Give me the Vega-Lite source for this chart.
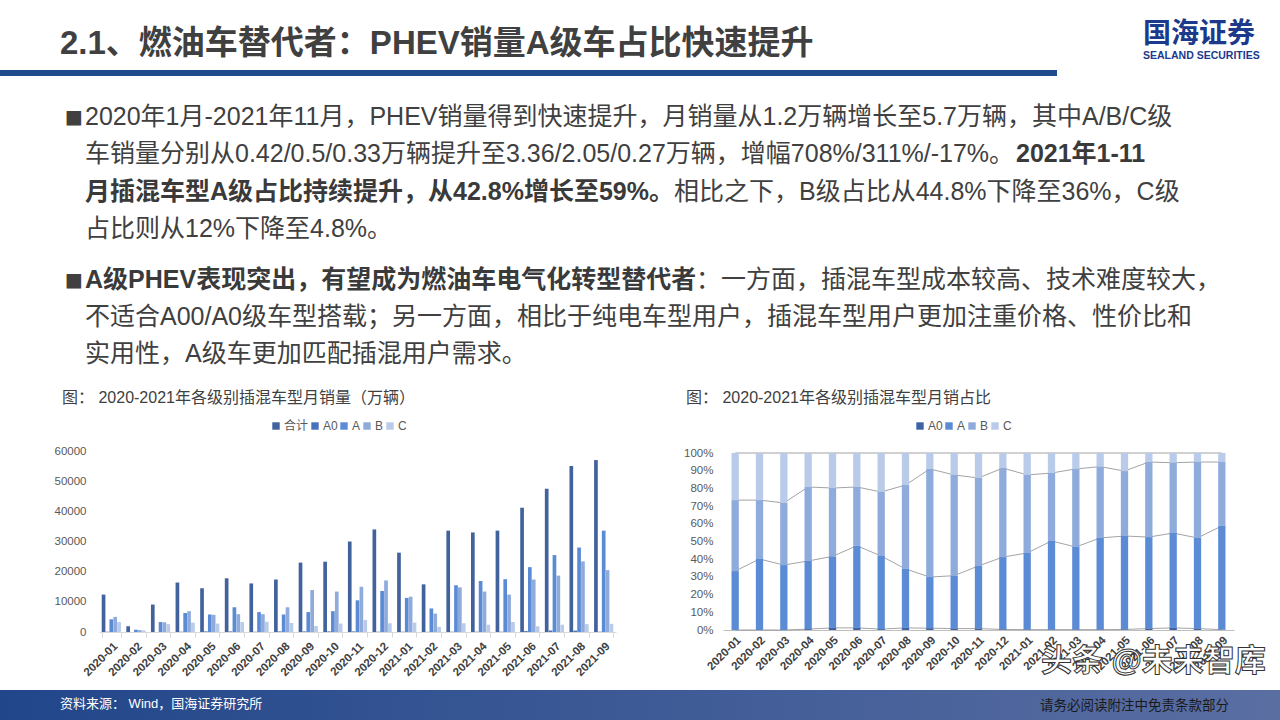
{
"$schema": "https://vega.github.io/schema/vega-lite/v6.json",
"padding": 0,
"background": "#ffffff",
"bounds": "flush",
"spacing": 0,
"config": {
  "view": {"stroke": null},
  "font": "Liberation Sans, Noto Sans CJK SC",
  "text": {"font": "Liberation Sans, Noto Sans CJK SC"},
  "axis": {"grid": false, "labelFont": "Liberation Sans, Noto Sans CJK SC"},
  "legend": {"labelFont": "Liberation Sans, Noto Sans CJK SC"}
},
"datasets": {
  "sales": [
    {"m":"2020-01","c":"合计","v":12400},{"m":"2020-01","c":"A0","v":100},{"m":"2020-01","c":"A","v":4200},{"m":"2020-01","c":"B","v":5000},{"m":"2020-01","c":"C","v":3300},
    {"m":"2020-02","c":"合计","v":1900},{"m":"2020-02","c":"A0","v":0},{"m":"2020-02","c":"A","v":760},{"m":"2020-02","c":"B","v":630},{"m":"2020-02","c":"C","v":510},
    {"m":"2020-03","c":"合计","v":9100},{"m":"2020-03","c":"A0","v":0},{"m":"2020-03","c":"A","v":3300},{"m":"2020-03","c":"B","v":3200},{"m":"2020-03","c":"C","v":2600},
    {"m":"2020-04","c":"合计","v":16400},{"m":"2020-04","c":"A0","v":100},{"m":"2020-04","c":"A","v":6300},{"m":"2020-04","c":"B","v":6900},{"m":"2020-04","c":"C","v":3100},
    {"m":"2020-05","c":"合计","v":14500},{"m":"2020-05","c":"A0","v":200},{"m":"2020-05","c":"A","v":5800},{"m":"2020-05","c":"B","v":5700},{"m":"2020-05","c":"C","v":2800},
    {"m":"2020-06","c":"合计","v":17800},{"m":"2020-06","c":"A0","v":200},{"m":"2020-06","c":"A","v":8200},{"m":"2020-06","c":"B","v":5900},{"m":"2020-06","c":"C","v":3300},
    {"m":"2020-07","c":"合计","v":16100},{"m":"2020-07","c":"A0","v":100},{"m":"2020-07","c":"A","v":6600},{"m":"2020-07","c":"B","v":5900},{"m":"2020-07","c":"C","v":3400},
    {"m":"2020-08","c":"合计","v":17400},{"m":"2020-08","c":"A0","v":200},{"m":"2020-08","c":"A","v":5800},{"m":"2020-08","c":"B","v":8200},{"m":"2020-08","c":"C","v":3000},
    {"m":"2020-09","c":"合计","v":23000},{"m":"2020-09","c":"A0","v":200},{"m":"2020-09","c":"A","v":6600},{"m":"2020-09","c":"B","v":13900},{"m":"2020-09","c":"C","v":2000},
    {"m":"2020-10","c":"合计","v":23300},{"m":"2020-10","c":"A0","v":200},{"m":"2020-10","c":"A","v":6900},{"m":"2020-10","c":"B","v":13400},{"m":"2020-10","c":"C","v":2800},
    {"m":"2020-11","c":"合计","v":30000},{"m":"2020-11","c":"A0","v":200},{"m":"2020-11","c":"A","v":10500},{"m":"2020-11","c":"B","v":15000},{"m":"2020-11","c":"C","v":4000},
    {"m":"2020-12","c":"合计","v":34000},{"m":"2020-12","c":"A0","v":100},{"m":"2020-12","c":"A","v":13600},{"m":"2020-12","c":"B","v":17100},{"m":"2020-12","c":"C","v":2900},
    {"m":"2021-01","c":"合计","v":26300},{"m":"2021-01","c":"A0","v":100},{"m":"2021-01","c":"A","v":11300},{"m":"2021-01","c":"B","v":11700},{"m":"2021-01","c":"C","v":3100},
    {"m":"2021-02","c":"合计","v":15800},{"m":"2021-02","c":"A0","v":50},{"m":"2021-02","c":"A","v":7800},{"m":"2021-02","c":"B","v":6100},{"m":"2021-02","c":"C","v":1700},
    {"m":"2021-03","c":"合计","v":33600},{"m":"2021-03","c":"A0","v":100},{"m":"2021-03","c":"A","v":15500},{"m":"2021-03","c":"B","v":14800},{"m":"2021-03","c":"C","v":2900},
    {"m":"2021-04","c":"合计","v":33000},{"m":"2021-04","c":"A0","v":100},{"m":"2021-04","c":"A","v":16900},{"m":"2021-04","c":"B","v":13400},{"m":"2021-04","c":"C","v":2400},
    {"m":"2021-05","c":"合计","v":33600},{"m":"2021-05","c":"A0","v":100},{"m":"2021-05","c":"A","v":17500},{"m":"2021-05","c":"B","v":12400},{"m":"2021-05","c":"C","v":3300},
    {"m":"2021-06","c":"合计","v":41200},{"m":"2021-06","c":"A0","v":300},{"m":"2021-06","c":"A","v":21500},{"m":"2021-06","c":"B","v":17400},{"m":"2021-06","c":"C","v":1900},
    {"m":"2021-07","c":"合计","v":47500},{"m":"2021-07","c":"A0","v":500},{"m":"2021-07","c":"A","v":25500},{"m":"2021-07","c":"B","v":18700},{"m":"2021-07","c":"C","v":2400},
    {"m":"2021-08","c":"合计","v":55000},{"m":"2021-08","c":"A0","v":450},{"m":"2021-08","c":"A","v":28000},{"m":"2021-08","c":"B","v":23400},{"m":"2021-08","c":"C","v":2600},
    {"m":"2021-09","c":"合计","v":57000},{"m":"2021-09","c":"A0","v":100},{"m":"2021-09","c":"A","v":33600},{"m":"2021-09","c":"B","v":20500},{"m":"2021-09","c":"C","v":2700}
  ],
  "share": [
    {"m":"2020-01","c":"A0","k":1,"p":0},{"m":"2020-01","c":"A","k":2,"p":33.3},{"m":"2020-01","c":"B","k":3,"p":40.1},{"m":"2020-01","c":"C","k":4,"p":26.6},
    {"m":"2020-02","c":"A0","k":1,"p":0},{"m":"2020-02","c":"A","k":2,"p":40.1},{"m":"2020-02","c":"B","k":3,"p":33.3},{"m":"2020-02","c":"C","k":4,"p":26.6},
    {"m":"2020-03","c":"A0","k":1,"p":0},{"m":"2020-03","c":"A","k":2,"p":36.7},{"m":"2020-03","c":"B","k":3,"p":35.1},{"m":"2020-03","c":"C","k":4,"p":28.2},
    {"m":"2020-04","c":"A0","k":1,"p":0.5},{"m":"2020-04","c":"A","k":2,"p":38.5},{"m":"2020-04","c":"B","k":3,"p":41.8},{"m":"2020-04","c":"C","k":4,"p":19.2},
    {"m":"2020-05","c":"A0","k":1,"p":1.2},{"m":"2020-05","c":"A","k":2,"p":40.4},{"m":"2020-05","c":"B","k":3,"p":38.6},{"m":"2020-05","c":"C","k":4,"p":19.8},
    {"m":"2020-06","c":"A0","k":1,"p":1.2},{"m":"2020-06","c":"A","k":2,"p":46.4},{"m":"2020-06","c":"B","k":3,"p":33.2},{"m":"2020-06","c":"C","k":4,"p":19.2},
    {"m":"2020-07","c":"A0","k":1,"p":0.5},{"m":"2020-07","c":"A","k":2,"p":41.3},{"m":"2020-07","c":"B","k":3,"p":36.2},{"m":"2020-07","c":"C","k":4,"p":22.0},
    {"m":"2020-08","c":"A0","k":1,"p":1.2},{"m":"2020-08","c":"A","k":2,"p":33.3},{"m":"2020-08","c":"B","k":3,"p":47.4},{"m":"2020-08","c":"C","k":4,"p":18.1},
    {"m":"2020-09","c":"A0","k":1,"p":1.0},{"m":"2020-09","c":"A","k":2,"p":28.9},{"m":"2020-09","c":"B","k":3,"p":61.1},{"m":"2020-09","c":"C","k":4,"p":9.0},
    {"m":"2020-10","c":"A0","k":1,"p":0.8},{"m":"2020-10","c":"A","k":2,"p":29.9},{"m":"2020-10","c":"B","k":3,"p":56.9},{"m":"2020-10","c":"C","k":4,"p":12.4},
    {"m":"2020-11","c":"A0","k":1,"p":0.8},{"m":"2020-11","c":"A","k":2,"p":35.4},{"m":"2020-11","c":"B","k":3,"p":49.7},{"m":"2020-11","c":"C","k":4,"p":14.1},
    {"m":"2020-12","c":"A0","k":1,"p":0.3},{"m":"2020-12","c":"A","k":2,"p":40.9},{"m":"2020-12","c":"B","k":3,"p":50.3},{"m":"2020-12","c":"C","k":4,"p":8.5},
    {"m":"2021-01","c":"A0","k":1,"p":0.2},{"m":"2021-01","c":"A","k":2,"p":43.3},{"m":"2021-01","c":"B","k":3,"p":44.1},{"m":"2021-01","c":"C","k":4,"p":12.4},
    {"m":"2021-02","c":"A0","k":1,"p":0.2},{"m":"2021-02","c":"A","k":2,"p":50.1},{"m":"2021-02","c":"B","k":3,"p":38.4},{"m":"2021-02","c":"C","k":4,"p":11.3},
    {"m":"2021-03","c":"A0","k":1,"p":0.2},{"m":"2021-03","c":"A","k":2,"p":46.7},{"m":"2021-03","c":"B","k":3,"p":44.1},{"m":"2021-03","c":"C","k":4,"p":9.0},
    {"m":"2021-04","c":"A0","k":1,"p":0.2},{"m":"2021-04","c":"A","k":2,"p":51.8},{"m":"2021-04","c":"B","k":3,"p":40.3},{"m":"2021-04","c":"C","k":4,"p":7.7},
    {"m":"2021-05","c":"A0","k":1,"p":0.3},{"m":"2021-05","c":"A","k":2,"p":52.8},{"m":"2021-05","c":"B","k":3,"p":36.7},{"m":"2021-05","c":"C","k":4,"p":10.2},
    {"m":"2021-06","c":"A0","k":1,"p":0.8},{"m":"2021-06","c":"A","k":2,"p":51.7},{"m":"2021-06","c":"B","k":3,"p":42.4},{"m":"2021-06","c":"C","k":4,"p":5.1},
    {"m":"2021-07","c":"A0","k":1,"p":1.2},{"m":"2021-07","c":"A","k":2,"p":53.6},{"m":"2021-07","c":"B","k":3,"p":39.7},{"m":"2021-07","c":"C","k":4,"p":5.5},
    {"m":"2021-08","c":"A0","k":1,"p":0.8},{"m":"2021-08","c":"A","k":2,"p":51.2},{"m":"2021-08","c":"B","k":3,"p":42.9},{"m":"2021-08","c":"C","k":4,"p":5.1},
    {"m":"2021-09","c":"A0","k":1,"p":0.2},{"m":"2021-09","c":"A","k":2,"p":58.6},{"m":"2021-09","c":"B","k":3,"p":36.1},{"m":"2021-09","c":"C","k":4,"p":5.1}
  ]
},
"vconcat": [
  {
    "width": 1280, "height": 70,
    "layer": [
      {"data": {"values": [{"t": "2.1、燃油车替代者：PHEV销量A级车占比快速提升"}]},
       "mark": {"type": "text", "align": "left", "baseline": "middle", "dx": -580, "dy": 9, "fontSize": 33, "fontWeight": "bold", "color": "#404040"},
       "encoding": {"text": {"field": "t"}}},
      {"data": {"values": [{"t": "国海证券"}]},
       "mark": {"type": "text", "align": "left", "baseline": "middle", "dx": 503, "dy": 0, "fontSize": 28, "fontWeight": "bold", "color": "#1b3a8c"},
       "encoding": {"text": {"field": "t"}}},
      {"data": {"values": [{"t": "SEALAND SECURITIES"}]},
       "mark": {"type": "text", "align": "left", "baseline": "middle", "dx": 503, "dy": 21, "fontSize": 10.5, "fontWeight": "bold", "color": "#1b3a8c"},
       "encoding": {"text": {"field": "t"}}}
    ]
  },
  {
    "width": 1057, "height": 6,
    "view": {"fill": "#1f4a8c", "stroke": null},
    "data": {"values": [{"t": ""}]},
    "mark": {"type": "text"},
    "encoding": {"text": {"field": "t"}}
  },
  {
    "width": 1280, "height": 614,
    "resolve": {
      "scale": {"x": "independent", "y": "independent", "color": "independent", "xOffset": "independent"},
      "axis": {"x": "independent", "y": "independent"},
      "legend": {"color": "independent"}
    },
    "layer": [
      {
        "data": {"values": [
          {"line": 1, "part": "m", "t": "■"},
          {"line": 1, "part": "n", "t": "2020年1月-2021年11月，PHEV销量得到快速提升，月销量从1.2万辆增长至5.7万辆，其中A/B/C级"},
          {"line": 2, "part": "n", "t": "车销量分别从0.42/0.5/0.33万辆提升至3.36/2.05/0.27万辆，增幅708%/311%/-17%。"},
          {"line": 2, "part": "b2", "t": "2021年1-11"},
          {"line": 3, "part": "b", "t": "月插混车型A级占比持续提升，从42.8%增长至59%。"},
          {"line": 3, "part": "n2", "t": "相比之下，B级占比从44.8%下降至36%，C级"},
          {"line": 4, "part": "n", "t": "占比则从12%下降至4.8%。"}
        ]},
        "encoding": {
          "y": {"field": "line", "type": "quantitative", "scale": {"domain": [1, 4], "range": [41, 153], "zero": false, "nice": false}, "axis": null},
          "text": {"field": "t"}
        },
        "layer": [
          {"transform": [{"filter": "datum.part === 'm'"}], "mark": {"type": "text", "align": "left", "baseline": "middle", "dx": -575, "font": "DejaVu Sans", "fontSize": 19, "color": "#404040"}},
          {"transform": [{"filter": "datum.part === 'n'"}], "mark": {"type": "text", "align": "left", "baseline": "middle", "dx": -555, "fontSize": 25, "color": "#404040"}},
          {"transform": [{"filter": "datum.part === 'b'"}], "mark": {"type": "text", "align": "left", "baseline": "middle", "dx": -555, "fontSize": 25, "fontWeight": "bold", "color": "#3a3a3a"}},
          {"transform": [{"filter": "datum.part === 'b2'"}], "mark": {"type": "text", "align": "left", "baseline": "middle", "dx": 376, "fontSize": 25, "fontWeight": "bold", "color": "#3a3a3a"}},
          {"transform": [{"filter": "datum.part === 'n2'"}], "mark": {"type": "text", "align": "left", "baseline": "middle", "dx": 34, "fontSize": 25, "color": "#404040"}}
        ]
      },
      {
        "data": {"values": [
          {"line": 1, "part": "m", "t": "■"},
          {"line": 1, "part": "b", "t": "A级PHEV表现突出，有望成为燃油车电气化转型替代者"},
          {"line": 1, "part": "n2", "t": "：一方面，插混车型成本较高、技术难度较大，"},
          {"line": 2, "part": "n", "t": "不适合A00/A0级车型搭载；另一方面，相比于纯电车型用户，插混车型用户更加注重价格、性价比和"},
          {"line": 3, "part": "n", "t": "实用性，A级车更加匹配插混用户需求。"}
        ]},
        "encoding": {
          "y": {"field": "line", "type": "quantitative", "scale": {"domain": [1, 3], "range": [204, 278], "zero": false, "nice": false}, "axis": null},
          "text": {"field": "t"}
        },
        "layer": [
          {"transform": [{"filter": "datum.part === 'm'"}], "mark": {"type": "text", "align": "left", "baseline": "middle", "dx": -575, "font": "DejaVu Sans", "fontSize": 19, "color": "#404040"}},
          {"transform": [{"filter": "datum.part === 'n'"}], "mark": {"type": "text", "align": "left", "baseline": "middle", "dx": -555, "fontSize": 25, "color": "#404040"}},
          {"transform": [{"filter": "datum.part === 'b'"}], "mark": {"type": "text", "align": "left", "baseline": "middle", "dx": -555, "fontSize": 25, "fontWeight": "bold", "color": "#3a3a3a"}},
          {"transform": [{"filter": "datum.part === 'n2'"}], "mark": {"type": "text", "align": "left", "baseline": "middle", "dx": 56, "fontSize": 25, "color": "#404040"}}
        ]
      },
      {"data": {"values": [{"t": "图： 2020-2021年各级别插混车型月销量（万辆）"}]},
       "mark": {"type": "text", "align": "left", "baseline": "middle", "dx": -578, "dy": 15, "fontSize": 16, "color": "#404040"},
       "encoding": {"text": {"field": "t"}}},
      {"data": {"values": [{"t": "图： 2020-2021年各级别插混车型月销占比"}]},
       "mark": {"type": "text", "align": "left", "baseline": "middle", "dx": 46, "dy": 15, "fontSize": 16, "color": "#404040"},
       "encoding": {"text": {"field": "t"}}},
      {
        "data": {"name": "sales"},
        "mark": {"type": "bar"},
        "encoding": {
          "x": {"field": "m", "type": "ordinal",
                "scale": {"type": "band", "range": [99, 616], "paddingInner": 0.22, "paddingOuter": 0.11},
                "axis": {"orient": "bottom", "offset": -58, "title": null, "labelAngle": -45, "labelFontWeight": "bold", "labelFontSize": 11.5, "labelColor": "#404040", "labelPadding": 3, "labelOverlap": false, "domainColor": "#d9d9d9", "tickColor": "#d9d9d9", "tickSize": 5, "tickBand": "extent"}},
          "xOffset": {"field": "c", "type": "nominal", "sort": ["合计", "A0", "A", "B", "C"], "scale": {"paddingInner": 0.05}},
          "y": {"field": "v", "type": "quantitative",
                "scale": {"domain": [0, 60000], "range": [556, 375], "nice": false},
                "axis": {"orient": "left", "offset": -92, "title": null, "values": [0, 10000, 20000, 30000, 40000, 50000, 60000], "format": "d", "domain": false, "ticks": false, "tickSize": 0, "labelPadding": 6, "labelFontSize": 11.5, "labelColor": "#595959"}},
          "color": {"field": "c", "type": "nominal", "sort": ["合计", "A0", "A", "B", "C"],
                    "scale": {"domain": ["合计", "A0", "A", "B", "C"], "range": ["#41629c", "#4a72ba", "#5b8bd5", "#8eabdc", "#b9cbe9"]},
                    "legend": {"orient": "none", "legendX": 270, "legendY": 344, "direction": "horizontal", "columns": 5, "title": null, "symbolType": "square", "symbolSize": 55, "symbolStrokeWidth": 0, "labelFontSize": 12, "labelColor": "#595959", "labelOffset": 2, "columnPadding": 0}}
        }
      },
      {
        "data": {"name": "share"},
        "transform": [{"stack": "p", "groupby": ["m"], "sort": [{"field": "k", "order": "ascending"}], "as": ["lo", "hi"]}],
        "encoding": {
          "x": {"field": "m", "type": "ordinal",
                "scale": {"type": "band", "range": [723, 1234], "paddingInner": 0.7, "paddingOuter": 0.35},
                "axis": {"orient": "bottom", "offset": -60, "title": null, "labelAngle": -45, "labelFontWeight": "bold", "labelFontSize": 11.5, "labelColor": "#404040", "labelPadding": 4, "labelOverlap": false, "domainColor": "#bfbfbf", "ticks": false}},
          "y": {"field": "hi", "type": "quantitative",
                "scale": {"domain": [0, 100], "range": [554, 377], "nice": false},
                "axis": {"orient": "left", "offset": -720, "title": null, "values": [0, 10, 20, 30, 40, 50, 60, 70, 80, 90, 100], "labelExpr": "datum.value + '%'", "domain": false, "ticks": false, "tickSize": 0, "labelPadding": 7, "labelFontSize": 11.5, "labelColor": "#595959"}}
        },
        "layer": [
          {"mark": {"type": "line", "color": "#8c8c8c", "strokeWidth": 0.8}, "encoding": {"detail": {"field": "c"}}},
          {"mark": {"type": "bar"},
           "encoding": {
             "y2": {"field": "lo"},
             "color": {"field": "c", "type": "nominal",
                       "scale": {"domain": ["A0", "A", "B", "C"], "range": ["#3f62a3", "#5b8bd5", "#8eabdc", "#b9cbe9"]},
                       "legend": {"orient": "none", "legendX": 914, "legendY": 344, "direction": "horizontal", "columns": 4, "title": null, "symbolType": "square", "symbolSize": 55, "symbolStrokeWidth": 0, "labelFontSize": 12, "labelColor": "#595959", "labelOffset": 2, "columnPadding": 0}}
           }}
        ]
      },
      {"data": {"values": [{"t": "头条 @未来智库"}]},
       "mark": {"type": "text", "align": "left", "baseline": "middle", "dx": 401, "dy": 279, "fontSize": 31, "fontWeight": "bold", "color": "#ffffff", "stroke": "#333333", "strokeWidth": 1},
       "encoding": {"text": {"field": "t"}}}
    ]
  },
  {
    "width": 1280, "height": 30,
    "view": {"fill": {"gradient": "linear", "x1": 0, "y1": 0, "x2": 1, "y2": 0, "stops": [{"offset": 0, "color": "#21468a"}, {"offset": 1, "color": "#5a6ea2"}]}, "stroke": null},
    "layer": [
      {"data": {"values": [{"t": "资料来源：  Wind，国海证券研究所"}]},
       "mark": {"type": "text", "align": "left", "baseline": "middle", "dx": -580, "dy": -1, "fontSize": 13, "color": "#ffffff"},
       "encoding": {"text": {"field": "t"}}},
      {"data": {"values": [{"t": "请务必阅读附注中免责条款部分"}]},
       "mark": {"type": "text", "align": "left", "baseline": "middle", "dx": 400, "dy": 1, "fontSize": 13.5, "color": "#1a1a1a"},
       "encoding": {"text": {"field": "t"}}}
    ]
  }
]
}
